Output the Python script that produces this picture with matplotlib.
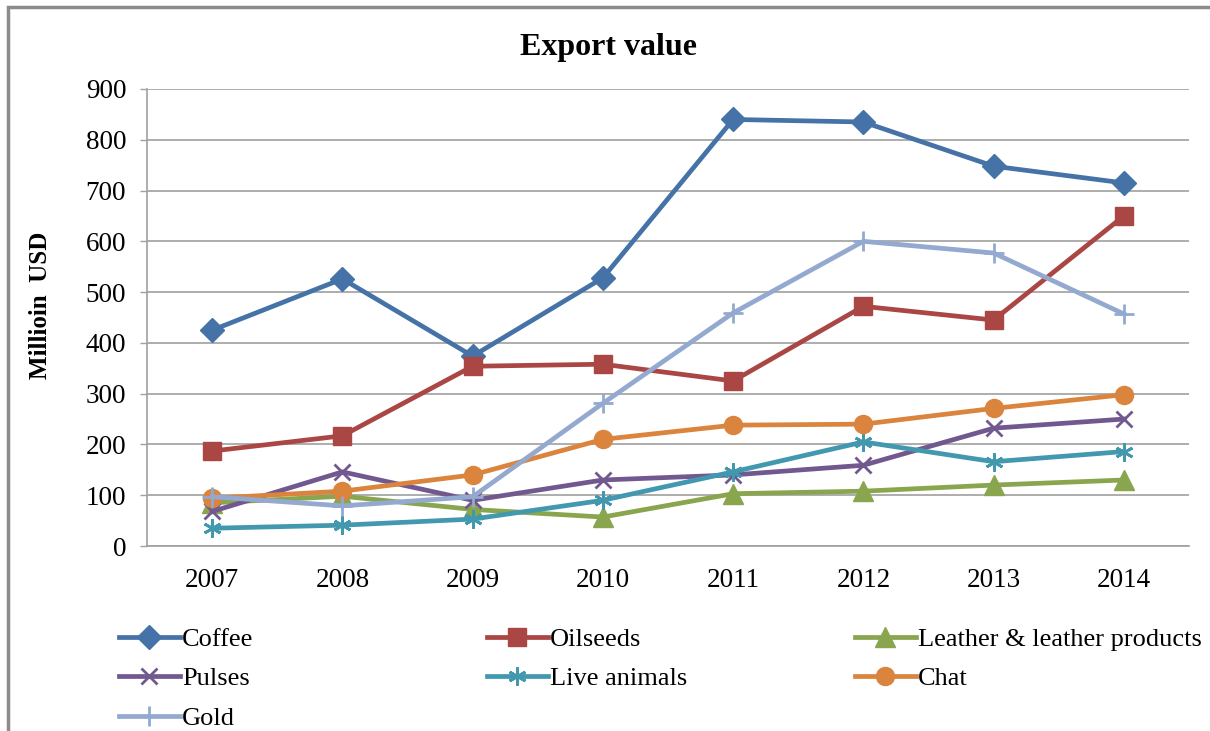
import matplotlib
matplotlib.use("Agg")
import matplotlib.pyplot as plt
from matplotlib.patches import Rectangle

years = ["2007", "2008", "2009", "2010", "2011", "2012", "2013", "2014"]
coffee = [425, 526, 374, 528, 840, 835, 748, 715]
oilseeds = [187, 217, 354, 358, 325, 472, 445, 650]
leather = [85, 98, 72, 57, 103, 108, 120, 130]
pulses = [68, 146, 90, 130, 140, 159, 232, 250]
live_animals = [35, 41, 53, 90, 146, 205, 166, 186]
chat = [94, 108, 140, 210, 238, 240, 271, 298]
gold = [97, 79, 97, 281, 459, 600, 577, 457]
yticks = [0, 100, 200, 300, 400, 500, 600, 700, 800, 900]

plt.rcParams['font.family'] = ['Liberation Serif', 'DejaVu Serif']

fig = plt.figure(figsize=(12.1, 7.31), dpi=100)
ax = fig.add_axes([147/1210, 1-546/731, (1189-147)/1210, (546-89)/731])

x = list(range(len(years)))
series = [
    ("Coffee", coffee, "#4572A7", "D", 12),
    ("Oilseeds", oilseeds, "#AA4643", "s", 13),
    ("Leather & leather products", leather, "#89A54E", "^", 14),
    ("Pulses", pulses, "#71588F", "x", 12),
    ("Live animals", live_animals, "#4198AF", "*", 13),
    ("Chat", chat, "#DB843D", "o", 13),
    ("Gold", gold, "#93A9CF", "+", 14),
]
LW = 3.4
handles = {}
for name, vals, col, mk, ms in series:
    if mk == "*":
        ln, = ax.plot(x, vals, color=col, lw=LW, marker=(6, 2, 0), ms=ms,
                      mew=2, mec=col, mfc=col, label=name)
    elif mk in ("x", "+"):
        ln, = ax.plot(x, vals, color=col, lw=LW, marker=mk, ms=ms,
                      mew=2, mec=col, label=name)
    else:
        ln, = ax.plot(x, vals, color=col, lw=LW, marker=mk, ms=ms,
                      mec=col, mfc=col, label=name)
    handles[name] = ln

ax.set_xlim(-0.5, len(years) - 0.5)
ax.set_ylim(0, 900)
ax.set_yticks(yticks)
ax.set_xticks(x)
ax.set_xticklabels(years)
ax.tick_params(axis='both', labelsize=19.5, colors='#000000')
ax.tick_params(axis='y', length=5, color='#A0A0A0', width=1, pad=10)
ax.tick_params(axis='x', length=0, pad=16)
ax.grid(axis='y', color='#A0A0A0', lw=1.2)
ax.set_axisbelow(True)
for s in ['top', 'right']:
    ax.spines[s].set_visible(False)
for s in ['left', 'bottom']:
    ax.spines[s].set_color('#A0A0A0')
    ax.spines[s].set_linewidth(1.2)

ax.set_ylabel("Millioin  USD", fontsize=18, fontweight='bold')
ax.yaxis.set_label_coords((52 - 147) / 1042, (546 - 305) / 457)
fig.text(609/1210, 1-47/731, "Export value", fontsize=23, fontweight='bold',
         ha='center', va='center')

# legend entries, row-major as in the reference
positions = {
    "Coffee": (119, 639), "Oilseeds": (487, 639),
    "Leather & leather products": (855, 639),
    "Pulses": (119, 678), "Live animals": (487, 678), "Chat": (855, 678),
    "Gold": (119, 718),
}
for name, (px, py) in positions.items():
    fig.legend([handles[name]], [name], loc='center left',
               bbox_to_anchor=(px/1210, 1 - py/731), frameon=False,
               fontsize=19, handlelength=2.3, handletextpad=0.1,
               borderaxespad=0, borderpad=0)

fig.patches.append(Rectangle((8/1210, -0.01), 1.2, 1 - 7/731 + 0.01,
                             transform=fig.transFigure, fill=False,
                             edgecolor='#8C8C8C', lw=2.5))

fig.savefig("out.png", dpi=100)
